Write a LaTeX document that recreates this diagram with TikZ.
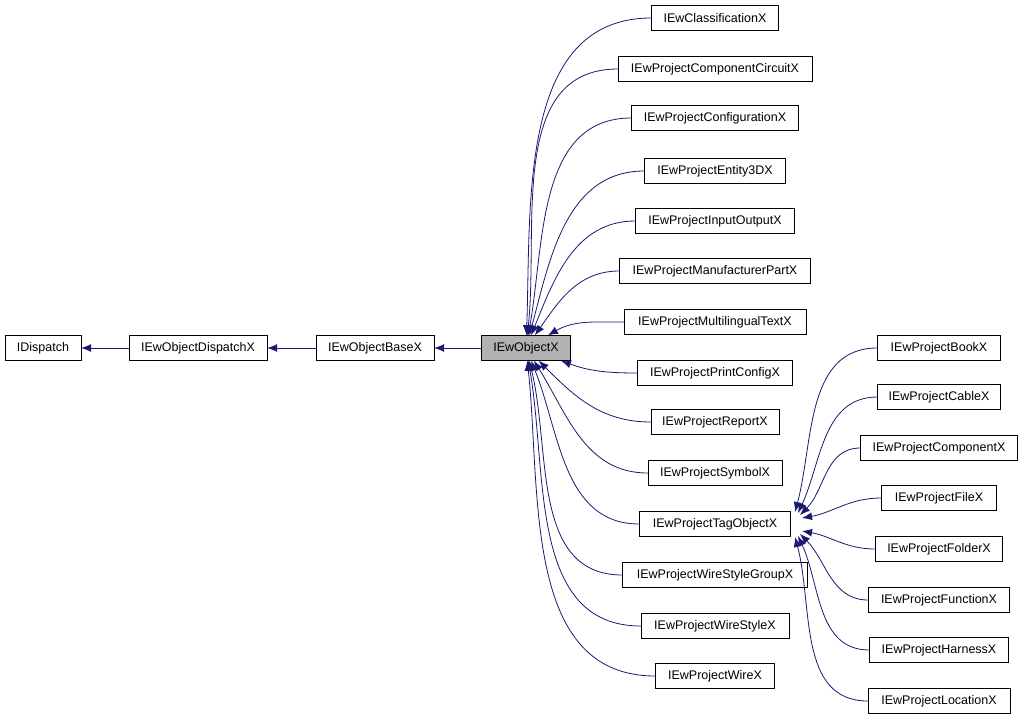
\documentclass[tikz,border=0pt]{standalone}
\usepackage{fontspec}
\setmainfont{Liberation Sans}
\usetikzlibrary{arrows.meta}
\definecolor{edgeblue}{RGB}{25,25,112}
\begin{document}
\begin{tikzpicture}[x=1pt, y=-1pt]
	\tikzset{c/.style={draw=black, fill=white, minimum height=25pt, inner sep=0pt, font=\fontsize{12.5}{14}\selectfont},
	e/.style={edgeblue, line width=0.8pt, -{Latex[length=10pt, width=8pt]}}};
	\useasboundingbox (0,0) rectangle (1024,721);

	\node[c, minimum width=76pt] (disp) at (43,348) {IDispatch};
	\node[c, minimum width=138pt] (odisp) at (198,348) {IEwObjectDispatchX};
	\node[c, minimum width=118pt] (base) at (375,348) {IEwObjectBaseX};
	\node[c, minimum width=89pt, fill=gray!60] (obj) at (526,348) {IEwObjectX};

	\draw[e] (odisp) -- (disp);
	\draw[e] (base) -- (odisp);
	\draw[e] (obj) -- (base);

	% direct children of IEwObjectX
	\foreach \n/\t/\w/\y/\a in {
		cls/IEwClassificationX/127/18/88,
		circ/IEwProjectComponentCircuitX/194/69/84,
		conf/IEwProjectConfigurationX/167/118/80,
		ent/IEwProjectEntity3DX/141/171/75,
		io/IEwProjectInputOutputX/159/221/68,
		man/IEwProjectManufacturerPartX/191/271/55,
		mlt/IEwProjectMultilingualTextX/182/322/30,
		prn/IEwProjectPrintConfigX/155/373/-20,
		rep/IEwProjectReportX/128/422/-45,
		sym/IEwProjectSymbolX/134/473/-58,
		tag/IEwProjectTagObjectX/151/524/-68,
		wsg/IEwProjectWireStyleGroupX/185/575/-76,
		wst/IEwProjectWireStyleX/148/626/-80,
		wire/IEwProjectWireX/119/676/-84}{
		\node[c, minimum width=\w pt] (\n) at (715,\y) {\t};
		\draw[e] (\n.west) to[out=180, in=\a] (obj);
	}

	% children of IEwProjectTagObjectX
	\foreach \n/\t/\w/\y/\a/\p in {
		book/IEwProjectBookX/123/348/75/{795,512},
		cab/IEwProjectCableX/123/397/65/{798,513},
		comp/IEwProjectComponentX/157/448/45/{800,515},
		file/IEwProjectFileX/115/498/10/{802,518},
		fold/IEwProjectFolderX/127/549/-10/{802,531},
		func/IEwProjectFunctionX/141/600/-45/{800,534},
		harn/IEwProjectHarnessX/139/650/-65/{798,536},
		loc/IEwProjectLocationX/142/701/-75/{795,537}}{
		\node[c, minimum width=\w pt] (\n) at (939,\y) {\t};
		\coordinate (\n tip) at (\p);
		\draw[e] (\n.west) to[out=180, in=\a] (\n tip);
	}
\end{tikzpicture}
\end{document}
